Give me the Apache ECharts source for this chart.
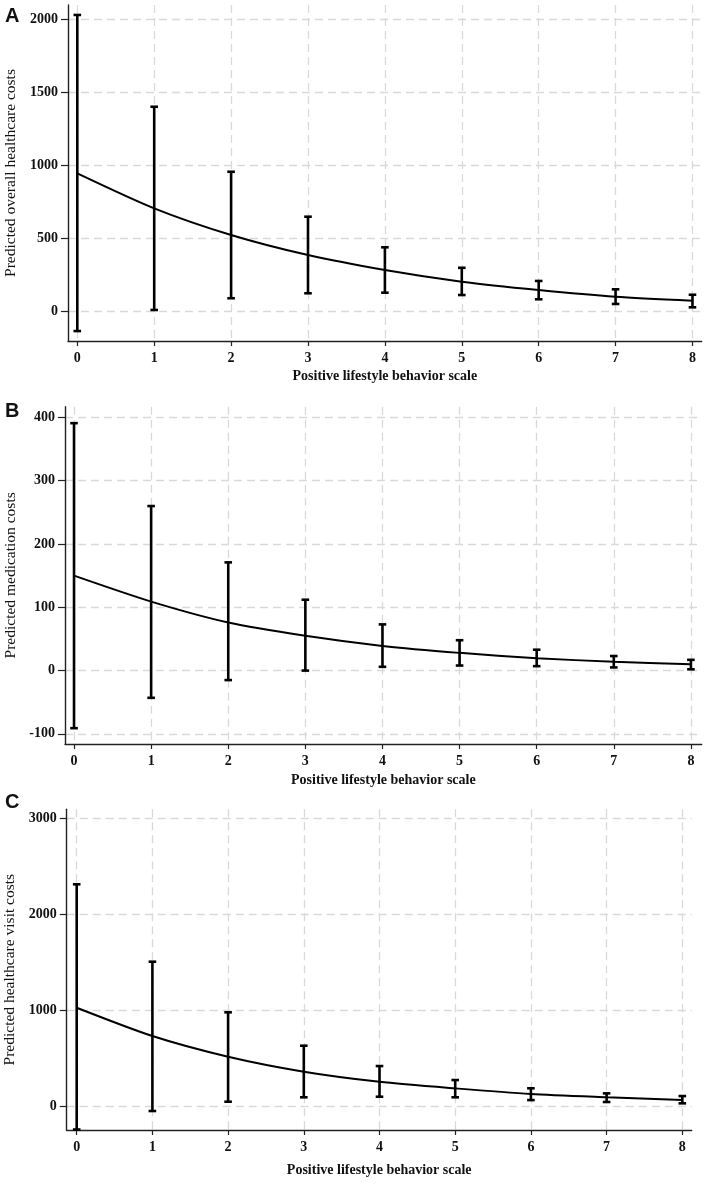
<!DOCTYPE html>
<html>
<head>
<meta charset="utf-8">
<script src="https://cdn.jsdelivr.net/npm/echarts@6/dist/echarts.min.js"></script>
<style>
html,body{margin:0;padding:0;background:#fff;}
#chart{width:709px;height:1188px;}
</style>
</head>
<body>
<div id="chart"></div>
<script>
// x categories (Positive lifestyle behavior scale)
const xValues = [0, 1, 2, 3, 4, 5, 6, 7, 8];
const xTicks = [0, 1, 2, 3, 4, 5, 6, 7, 8];

// Panel A: Predicted overall healthcare costs
const A_pred = [945, 706, 524, 387, 285, 205, 148, 102, 75];
const A_lo   = [-132, 12, 92, 126, 130, 114, 85, 53, 30];
const A_hi   = [2027, 1400, 956, 649, 440, 300, 210, 153, 116];
const A_ticks = [0, 500, 1000, 1500, 2000];

// Panel B: Predicted medication costs
const B_pred = [150, 109, 76, 55, 39, 28, 19.5, 14, 10];
const B_lo   = [-91, -43, -15, 0, 6, 8, 7, 5, 2];
const B_hi   = [391, 260, 171, 112, 73, 48, 33, 23, 17];
const B_ticks = [-100, 0, 100, 200, 300, 400];

// Panel C: Predicted healthcare visit costs
const C_pred = [1025, 730, 514, 358, 253, 184, 125, 91, 62];
const C_lo   = [-245, -52, 45, 91, 97, 91, 62, 42, 28];
const C_hi   = [2312, 1505, 977, 629, 417, 271, 185, 132, 104];
const C_ticks = [0, 1000, 2000, 3000];

const xTitle = 'Positive lifestyle behavior scale';
const yTitles = ['Predicted overall healthcare costs', 'Predicted medication costs', 'Predicted healthcare visit costs'];
const panelLetters = ['A', 'B', 'C'];

const SERIF = '"Liberation Serif", "DejaVu Serif", serif';
const SANS = '"Liberation Sans", Arial, sans-serif';

const grids = [
  {left: 68, top: 5, width: 633.7, height: 336},
  {left: 65, top: 406.7, width: 636.7, height: 337.3},
  {left: 66.7, top: 809.3, width: 625, height: 320.7}
].map(g => Object.assign(g, {containLabel: false, outerBoundsMode: 'none'}));
const xRanges = [[-0.121, 8.12], [-0.117, 8.14], [-0.132, 8.124]];
const yRanges = [[-200, 2095], [-116, 417], [-250, 3094]];
const yTickSets = [A_ticks, B_ticks, C_ticks];
const preds = [A_pred, B_pred, C_pred];
const los = [A_lo, B_lo, C_lo];
const his = [A_hi, B_hi, C_hi];
const xNameGaps = [28, 29, 33];
const yNameGaps = [49, 46, 48];

const gridLine = {show: true, lineStyle: {color: '#d9d9d9', width: 1.3, type: [8, 5]}};

const xAxes = [], yAxes = [], series = [];
for (let i = 0; i < 3; i++) {
  xAxes.push({
    type: 'value', gridIndex: i, min: xRanges[i][0], max: xRanges[i][1],
    name: xTitle, nameLocation: 'middle', nameGap: xNameGaps[i],
    nameTextStyle: {fontFamily: SERIF, fontSize: 14, fontWeight: 'bold', color: '#111'},
    axisLine: {show: true, onZero: false, lineStyle: {color: '#222', width: 1.4}},
    axisTick: {show: true, length: 5, customValues: xTicks, lineStyle: {color: '#222', width: 1.2}},
    axisLabel: {customValues: xTicks, fontFamily: SERIF, fontSize: 14, fontWeight: 'bold', color: '#111', margin: 10,
      formatter: v => String(v)},
    splitLine: gridLine
  });
  yAxes.push({
    type: 'value', gridIndex: i, min: yRanges[i][0], max: yRanges[i][1],
    name: yTitles[i], nameLocation: 'middle', nameGap: yNameGaps[i], nameRotate: 90,
    nameTextStyle: {fontFamily: SERIF, fontSize: 15.5, color: '#111'},
    axisLine: {show: true, onZero: false, lineStyle: {color: '#222', width: 1.4}},
    axisTick: {show: true, length: 7, customValues: yTickSets[i], lineStyle: {color: '#222', width: 1.2}},
    axisLabel: {customValues: yTickSets[i], fontFamily: SERIF, fontSize: 14, fontWeight: 'bold', color: '#111', margin: 10,
      formatter: v => String(v)},
    splitLine: gridLine
  });
  const lo = los[i], hi = his[i];
  series.push({
    type: 'custom', xAxisIndex: i, yAxisIndex: i,
    data: xValues.map((x, k) => [x, lo[k], hi[k]]),
    encode: {x: 0, y: [1, 2]},
    renderItem: function (params, api) {
      const x = api.value(0);
      const pLo = api.coord([x, api.value(1)]);
      const pHi = api.coord([x, api.value(2)]);
      const hw = 3.8;
      const style = {stroke: '#000', lineWidth: 2.6, fill: null};
      return {
        type: 'group',
        children: [
          {type: 'line', shape: {x1: pLo[0], y1: pLo[1], x2: pHi[0], y2: pHi[1]}, style: style},
          {type: 'line', shape: {x1: pHi[0] - hw, y1: pHi[1], x2: pHi[0] + hw, y2: pHi[1]}, style: style},
          {type: 'line', shape: {x1: pLo[0] - hw, y1: pLo[1], x2: pLo[0] + hw, y2: pLo[1]}, style: style}
        ]
      };
    },
    z: 3
  });
  series.push({
    type: 'line', xAxisIndex: i, yAxisIndex: i,
    data: xValues.map((x, k) => [x, preds[i][k]]),
    smooth: 0.25, symbol: 'none',
    lineStyle: {color: '#000', width: 2},
    z: 4
  });
}

const graphics = [
  {type: 'text', left: 5, top: 6, style: {text: panelLetters[0], font: 'bold 20px ' + SANS, fill: '#111'}},
  {type: 'text', left: 5, top: 401, style: {text: panelLetters[1], font: 'bold 20px ' + SANS, fill: '#111'}},
  {type: 'text', left: 5, top: 792, style: {text: panelLetters[2], font: 'bold 20px ' + SANS, fill: '#111'}}
];

const chart = echarts.init(document.getElementById('chart'), null, {renderer: 'canvas'});
chart.setOption({
  animation: false,
  backgroundColor: '#fff',
  grid: grids,
  xAxis: xAxes,
  yAxis: yAxes,
  series: series,
  graphic: graphics
});
</script>
</body>
</html>
